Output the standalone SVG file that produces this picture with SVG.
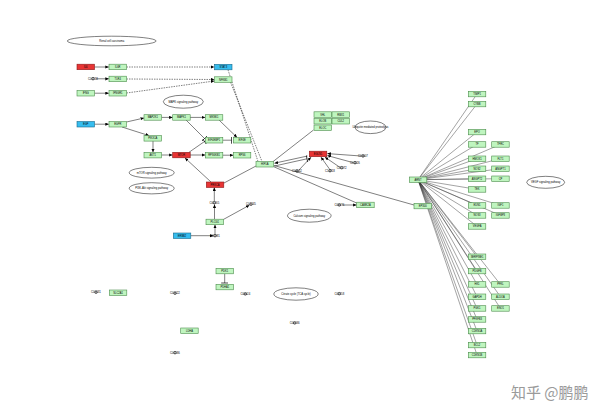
<svg xmlns="http://www.w3.org/2000/svg" width="600" height="419" viewBox="0 0 600 419">
<style>
.bg{fill:#fff}
.g rect{fill:#bff5bf;stroke:#4c8c4c;stroke-width:0.6}
.r rect{fill:#e83434;stroke:#8a1a1a;stroke-width:0.6}
.b rect{fill:#36bdef;stroke:#1a6a8a;stroke-width:0.6}
text{font-family:"Liberation Sans",Arial,sans-serif;font-size:2.6px;fill:#000;text-anchor:middle}
.c circle{fill:none;stroke:#000;stroke-width:0.5}
.c text{font-size:2.8px}
.p ellipse{fill:#fff;stroke:#000;stroke-width:0.5}
.p text{font-size:2.7px}
.e{stroke:#000;stroke-width:0.5;fill:none}
.d{stroke:#000;stroke-width:0.5;fill:none;stroke-dasharray:1.5,1}
.f{stroke:#333;stroke-width:0.45;fill:none}
.a{marker-end:url(#arr)}
.t{marker-end:url(#bar)}
.wm{font-family:"Noto Sans CJK SC",sans-serif;font-size:15px;fill:#9a9a9a;text-anchor:start}
</style>
<defs>
<marker id="arr" markerUnits="userSpaceOnUse" markerWidth="4" markerHeight="4" refX="3.5" refY="1.6" orient="auto"><path d="M0,0L3.5,1.6L0,3.2z" fill="#000"/></marker>
<marker id="bar" markerUnits="userSpaceOnUse" markerWidth="2" markerHeight="7" refX="1" refY="3.5" orient="auto"><path d="M1,0V7" stroke="#000" stroke-width="0.7"/></marker>
</defs>
<rect class="bg" width="600" height="419"/>

<g id="connectors">
<line class="e a" x1="94.5" y1="67" x2="108.8" y2="67"/>
<line class="d a" x1="126.5" y1="67" x2="214.4" y2="67"/>
<line class="e a" x1="96" y1="78.8" x2="108.8" y2="78.8"/>
<line class="d a" x1="126.5" y1="79" x2="214.4" y2="79.5"/>
<line class="e a" x1="94.5" y1="93.2" x2="108.8" y2="93.2"/>
<line class="d a" x1="126.5" y1="93" x2="214.4" y2="81"/>
<line class="d" x1="228" y1="69.8" x2="258" y2="161.5"/>
<line class="d" x1="230.5" y1="82.2" x2="262" y2="161.5"/>
<line class="e a" x1="94.5" y1="124.2" x2="108.8" y2="124.2"/>
<line class="e a" x1="126.5" y1="122" x2="144" y2="118"/>
<line class="e a" x1="161.5" y1="117.4" x2="172.6" y2="117.4"/>
<line class="e a" x1="190" y1="117.4" x2="205.2" y2="117.4"/>
<line class="e a" x1="122" y1="127" x2="149" y2="135.6"/>
<line class="e a" x1="153" y1="141" x2="153" y2="152.3"/>
<line class="e a" x1="161.5" y1="155" x2="172.6" y2="155"/>
<line class="e a" x1="190" y1="155" x2="205.2" y2="155"/>
<line class="e a" x1="222.7" y1="155.2" x2="233.2" y2="155.2"/>
<line class="e t" x1="189" y1="152.3" x2="204.5" y2="141.5"/>
<line class="e t" x1="186" y1="120" x2="204.5" y2="138.5"/>
<line class="e t" x1="222.7" y1="140.2" x2="231.5" y2="140.2"/>
<line class="e a" x1="219" y1="120" x2="237" y2="137.4"/>
<line class="e a" x1="211" y1="182" x2="185" y2="158"/>
<line class="e" x1="224" y1="183" x2="256" y2="166"/>
<line class="e a" x1="214.3" y1="201" x2="214.3" y2="187.5"/>
<line class="e a" x1="214.5" y1="219.2" x2="214.5" y2="204.4"/>
<line class="e a" x1="223.3" y1="219.5" x2="249.4" y2="205.2"/>
<line class="e a" x1="190.7" y1="235.7" x2="213.3" y2="235.7"/>
<line class="e a" x1="215" y1="234" x2="215" y2="224.8"/>
<line class="e" x1="313.5" y1="130" x2="273" y2="161.6"/>
<line class="e a" x1="307.5" y1="156" x2="274.5" y2="163.2"/>
<line class="e t" x1="274.5" y1="166" x2="307" y2="158.8"/>
<line class="e a" x1="361" y1="156" x2="327.4" y2="153.6"/>
<line class="e a" x1="353" y1="162.6" x2="327.4" y2="155.6"/>
<line class="e a" x1="340" y1="167.4" x2="325" y2="157.2"/>
<line class="e a" x1="329.6" y1="169.2" x2="321" y2="157.2"/>
<line class="e a" x1="299" y1="170" x2="311" y2="157.2"/>
<line class="e" x1="273.5" y1="166.6" x2="356.7" y2="203"/>
<line class="e" x1="274" y1="165.5" x2="414" y2="205"/>
<line class="e a" x1="342" y1="205" x2="356.6" y2="205"/>
<line class="e t" x1="224.7" y1="273.7" x2="224.7" y2="283"/>
<g id="fan">
<line class="f" x1="418" y1="179.7" x2="477" y2="94"/>
<line class="f" x1="418" y1="179.7" x2="477" y2="104"/>
<line class="f" x1="418" y1="179.7" x2="477" y2="132"/>
<line class="f" x1="418" y1="179.7" x2="477" y2="144.4"/>
<line class="f" x1="418" y1="179.7" x2="477" y2="158.7"/>
<line class="f" x1="418" y1="179.7" x2="477" y2="168.7"/>
<line class="f" x1="418" y1="179.7" x2="477" y2="178.7"/>
<line class="f" x1="418" y1="179.7" x2="477" y2="189.4"/>
<line class="f" x1="418" y1="179.7" x2="477" y2="205.4"/>
<line class="f" x1="418" y1="179.7" x2="477" y2="215.4"/>
<line class="f" x1="418" y1="179.7" x2="477" y2="226.4"/>
<line class="f" x1="418" y1="179.7" x2="477" y2="256.7"/>
<line class="f" x1="418" y1="179.7" x2="477" y2="271"/>
<line class="f" x1="418" y1="179.7" x2="477" y2="284.4"/>
<line class="f" x1="418" y1="179.7" x2="477" y2="296.7"/>
<line class="f" x1="418" y1="179.7" x2="477" y2="308.4"/>
<line class="f" x1="418" y1="179.7" x2="477" y2="319.4"/>
<line class="f" x1="418" y1="179.7" x2="477" y2="331"/>
<line class="f" x1="418" y1="179.7" x2="477" y2="345"/>
<line class="f" x1="418" y1="179.7" x2="477" y2="355"/>
<line class="f" x1="418" y1="179.7" x2="500.4" y2="144.4"/>
<line class="f" x1="418" y1="179.7" x2="500.4" y2="158.7"/>
<line class="f" x1="418" y1="179.7" x2="500.4" y2="168.7"/>
<line class="f" x1="418" y1="179.7" x2="500.4" y2="178.7"/>
<line class="f" x1="418" y1="179.7" x2="500.4" y2="205.4"/>
<line class="f" x1="418" y1="179.7" x2="500.4" y2="215.4"/>
<line class="f" x1="418" y1="179.7" x2="500.4" y2="284.4"/>
<line class="f" x1="418" y1="179.7" x2="500.4" y2="296.7"/>
<line class="f" x1="418" y1="179.7" x2="500.4" y2="308.4"/>
</g>
</g>

<g id="pathways" class="p">
<g id="p-renal"><ellipse cx="111.7" cy="41" rx="44.5" ry="4.8"/><text x="111.7" y="42">Renal cell carcinoma</text></g>
<g id="p-mapk"><ellipse cx="183.3" cy="101.7" rx="20" ry="6.5"/><text x="183.3" y="102.7">MAPK signaling pathway</text></g>
<g id="p-mtor"><ellipse cx="151.7" cy="172.7" rx="22.5" ry="5.4"/><text x="151.7" y="173.7">mTOR signaling pathway</text></g>
<g id="p-pi3k"><ellipse cx="151.7" cy="188.3" rx="22.5" ry="5.6"/><text x="151.7" y="189.3">PI3K-Akt signaling pathway</text></g>
<g id="p-ubiq"><ellipse cx="370.5" cy="127.3" rx="15.5" ry="6.3"/><text x="370.5" y="128.3">Ubiquitin mediated proteolysis</text></g>
<g id="p-calcium"><ellipse cx="309.3" cy="215.7" rx="21.8" ry="6.5"/><text x="309.3" y="216.7">Calcium signaling pathway</text></g>
<g id="p-tca"><ellipse cx="296" cy="294" rx="22.2" ry="6.2"/><text x="296" y="295">Citrate cycle (TCA cycle)</text></g>
<g id="p-vegf"><ellipse cx="545.7" cy="182.3" rx="19" ry="6"/><text x="545.7" y="183.3">VEGF signaling pathway</text></g>
</g>

<g id="compounds" class="c">
<g id="C00533"><text x="93" y="79.7">C00533</text><circle cx="93" cy="78.7" r="1.3"/></g>
<g id="C00165"><text x="214.3" y="203.7">C00165</text><circle cx="214.3" cy="202.7" r="1.3"/></g>
<g id="C01245"><text x="251" y="205.3">C01245</text><circle cx="251" cy="204.3" r="1.3"/></g>
<g id="C05981"><text x="215" y="236.7">C05981</text><circle cx="215" cy="235.7" r="1.3"/></g>
<g id="C00007"><text x="363" y="157">C00007</text><circle cx="363" cy="156" r="1.3"/></g>
<g id="C00026"><text x="355" y="163.7">C00026</text><circle cx="355" cy="162.7" r="1.3"/></g>
<g id="C00072"><text x="341.7" y="168.7">C00072</text><circle cx="341.7" cy="167.7" r="1.3"/></g>
<g id="C14818"><text x="330" y="171.7">C14818</text><circle cx="330" cy="170.7" r="1.3"/></g>
<g id="C00042"><text x="297" y="172">C00042</text><circle cx="297" cy="171" r="1.3"/></g>
<g id="C00076"><text x="339.3" y="206">C00076</text><circle cx="339.3" cy="205" r="1.3"/></g>
<g id="C00031"><text x="96" y="293.3">C00031</text><circle cx="96" cy="292.3" r="1.3"/></g>
<g id="C00022"><text x="175" y="294.3">C00022</text><circle cx="175" cy="293.3" r="1.3"/></g>
<g id="C00024"><text x="245.3" y="295">C00024</text><circle cx="245.3" cy="294" r="1.3"/></g>
<g id="C00186"><text x="175" y="353.7">C00186</text><circle cx="175" cy="352.7" r="1.3"/></g>
<g id="C00158"><text x="339.3" y="294.7">C00158</text><circle cx="339.3" cy="293.7" r="1.3"/></g>
<g id="C00036"><text x="294.7" y="324">C00036</text><circle cx="294.7" cy="323" r="1.3"/></g>
</g>

<g id="genes">
<g id="IL6" class="r"><rect x="77" y="64.2" width="17.5" height="5.5"/><text x="85.75" y="67.9">IL6</text></g>
<g id="IL6R" class="g"><rect x="109" y="64.2" width="17.5" height="5.5"/><text x="117.75" y="67.9">IL6R</text></g>
<g id="STAT3" class="b"><rect x="214.5" y="64.3" width="17.5" height="5.5"/><text x="223.25" y="68">STAT3</text></g>
<g id="TLR4" class="g"><rect x="109" y="76.2" width="17.5" height="5.5"/><text x="117.75" y="79.9">TLR4</text></g>
<g id="NFKB1" class="g"><rect x="214.5" y="76.8" width="17.5" height="5.5"/><text x="223.25" y="80.5">NFKB1</text></g>
<g id="IFNG" class="g"><rect x="77" y="90.5" width="17.5" height="5.5"/><text x="85.75" y="94.2">IFNG</text></g>
<g id="IFNGR1" class="g"><rect x="109" y="90.5" width="17.5" height="5.5"/><text x="117.75" y="94.2">IFNGR1</text></g>
<g id="EGF" class="b"><rect x="77" y="121.5" width="17.5" height="5.5"/><text x="85.75" y="125.2">EGF</text></g>
<g id="EGFR" class="g"><rect x="109" y="121.5" width="17.5" height="5.5"/><text x="117.75" y="125.2">EGFR</text></g>
<g id="MAP2K1" class="g"><rect x="144" y="114.7" width="17.5" height="5.5"/><text x="152.75" y="118.4">MAP2K1</text></g>
<g id="MAPK1" class="g"><rect x="172.7" y="114.7" width="17.5" height="5.5"/><text x="181.45" y="118.4">MAPK1</text></g>
<g id="MKNK1" class="g"><rect x="205.3" y="114.7" width="17.5" height="5.5"/><text x="214.05" y="118.4">MKNK1</text></g>
<g id="PIK3CA" class="g"><rect x="144" y="135.6" width="17.5" height="5.5"/><text x="152.75" y="139.3">PIK3CA</text></g>
<g id="AKT1" class="g"><rect x="144" y="152.4" width="17.5" height="5.5"/><text x="152.75" y="156.1">AKT1</text></g>
<g id="MTOR" class="r"><rect x="172.7" y="152.3" width="17.5" height="5.5"/><text x="181.45" y="156">MTOR</text></g>
<g id="EIF4EBP1" class="g"><rect x="205.3" y="137.5" width="17.5" height="5.5"/><text x="214.05" y="141.2">EIF4EBP1</text></g>
<g id="EIF4E" class="g"><rect x="233.3" y="137.5" width="17.5" height="5.5"/><text x="242.05" y="141.2">EIF4E</text></g>
<g id="RPS6KB1" class="g"><rect x="205.3" y="152.5" width="17.5" height="5.5"/><text x="214.05" y="156.2">RPS6KB1</text></g>
<g id="RPS6" class="g"><rect x="233.3" y="152.5" width="17.5" height="5.5"/><text x="242.05" y="156.2">RPS6</text></g>
<g id="PRKCA" class="r"><rect x="206.3" y="182" width="17.5" height="5.5"/><text x="215.05" y="185.7">PRKCA</text></g>
<g id="PLCG1" class="g"><rect x="206" y="219.2" width="17.5" height="5.5"/><text x="214.75" y="222.9">PLCG1</text></g>
<g id="ERBB2" class="b"><rect x="173.3" y="233" width="17.5" height="5.5"/><text x="182.05" y="236.7">ERBB2</text></g>
<g id="HIF1A" class="g"><rect x="256" y="161.5" width="17.5" height="5.5"/><text x="264.75" y="165.2">HIF1A</text></g>
<g id="VHL" class="g"><rect x="314" y="111.8" width="17.5" height="5.5"/><text x="322.75" y="115.5">VHL</text></g>
<g id="RBX1" class="g"><rect x="332" y="111.8" width="17.5" height="5.5"/><text x="340.75" y="115.5">RBX1</text></g>
<g id="ELOB" class="g"><rect x="314" y="118.5" width="17.5" height="5.5"/><text x="322.75" y="122.2">ELOB</text></g>
<g id="CUL2" class="g"><rect x="332" y="118.5" width="17.5" height="5.5"/><text x="340.75" y="122.2">CUL2</text></g>
<g id="ELOC" class="g"><rect x="314" y="125" width="17.5" height="5.5"/><text x="322.75" y="128.7">ELOC</text></g>
<g id="EGLN1" class="r"><rect x="309.3" y="151.2" width="17.5" height="5.5"/><text x="318.05" y="154.9">EGLN1</text></g>
<g id="CAMK2A" class="g"><rect x="356.7" y="202.2" width="17.5" height="5.5"/><text x="365.45" y="205.9">CAMK2A</text></g>
<g id="ARNT" class="g"><rect x="409.3" y="177" width="17.5" height="5.5"/><text x="418.05" y="180.7">ARNT</text></g>
<g id="EP300" class="g"><rect x="414" y="203.3" width="17.5" height="5.5"/><text x="422.75" y="207">EP300</text></g>
<g id="TIMP1" class="g"><rect x="468.3" y="91.3" width="17.5" height="5.5"/><text x="477.05" y="95">TIMP1</text></g>
<g id="CYBB" class="g"><rect x="468.3" y="101.3" width="17.5" height="5.5"/><text x="477.05" y="105">CYBB</text></g>
<g id="EPO" class="g"><rect x="468.3" y="129.3" width="17.5" height="5.5"/><text x="477.05" y="133">EPO</text></g>
<g id="TF" class="g"><rect x="468.3" y="141.7" width="17.5" height="5.5"/><text x="477.05" y="145.4">TF</text></g>
<g id="HMOX1" class="g"><rect x="468.3" y="156" width="17.5" height="5.5"/><text x="477.05" y="159.7">HMOX1</text></g>
<g id="NOS2" class="g"><rect x="468.3" y="166" width="17.5" height="5.5"/><text x="477.05" y="169.7">NOS2</text></g>
<g id="ANGPT2" class="g"><rect x="468.3" y="176" width="17.5" height="5.5"/><text x="477.05" y="179.7">ANGPT2</text></g>
<g id="TEK" class="g"><rect x="468.3" y="186.7" width="17.5" height="5.5"/><text x="477.05" y="190.4">TEK</text></g>
<g id="EDN1" class="g"><rect x="468.3" y="202.7" width="17.5" height="5.5"/><text x="477.05" y="206.4">EDN1</text></g>
<g id="NOS3" class="g"><rect x="468.3" y="212.7" width="17.5" height="5.5"/><text x="477.05" y="216.4">NOS3</text></g>
<g id="VEGFA" class="g"><rect x="468.3" y="223.7" width="17.5" height="5.5"/><text x="477.05" y="227.4">VEGFA</text></g>
<g id="SERPINE1" class="g"><rect x="468.3" y="254" width="17.5" height="5.5"/><text x="477.05" y="257.7">SERPINE1</text></g>
<g id="PDGFB" class="g"><rect x="468.3" y="268.3" width="17.5" height="5.5"/><text x="477.05" y="272">PDGFB</text></g>
<g id="HK1" class="g"><rect x="468.3" y="281.7" width="17.5" height="5.5"/><text x="477.05" y="285.4">HK1</text></g>
<g id="GAPDH" class="g"><rect x="468.3" y="294" width="17.5" height="5.5"/><text x="477.05" y="297.7">GAPDH</text></g>
<g id="PGK1" class="g"><rect x="468.3" y="305.7" width="17.5" height="5.5"/><text x="477.05" y="309.4">PGK1</text></g>
<g id="PFKFB3" class="g"><rect x="468.3" y="316.7" width="17.5" height="5.5"/><text x="477.05" y="320.4">PFKFB3</text></g>
<g id="CDKN1A" class="g"><rect x="468.3" y="328.3" width="17.5" height="5.5"/><text x="477.05" y="332">CDKN1A</text></g>
<g id="BCL2" class="g"><rect x="468.3" y="342.3" width="17.5" height="5.5"/><text x="477.05" y="346">BCL2</text></g>
<g id="CDKN1B" class="g"><rect x="468.3" y="352.3" width="17.5" height="5.5"/><text x="477.05" y="356">CDKN1B</text></g>
<g id="TFRC" class="g"><rect x="491.7" y="141.7" width="17.5" height="5.5"/><text x="500.45" y="145.4">TFRC</text></g>
<g id="FLT1" class="g"><rect x="491.7" y="156" width="17.5" height="5.5"/><text x="500.45" y="159.7">FLT1</text></g>
<g id="ANGPT1" class="g"><rect x="491.7" y="166" width="17.5" height="5.5"/><text x="500.45" y="169.7">ANGPT1</text></g>
<g id="CP" class="g"><rect x="491.7" y="176" width="17.5" height="5.5"/><text x="500.45" y="179.7">CP</text></g>
<g id="IGF1" class="g"><rect x="491.7" y="202.7" width="17.5" height="5.5"/><text x="500.45" y="206.4">IGF1</text></g>
<g id="IGFBP3" class="g"><rect x="491.7" y="212.7" width="17.5" height="5.5"/><text x="500.45" y="216.4">IGFBP3</text></g>
<g id="PFKL" class="g"><rect x="491.7" y="281.7" width="17.5" height="5.5"/><text x="500.45" y="285.4">PFKL</text></g>
<g id="ALDOA" class="g"><rect x="491.7" y="294" width="17.5" height="5.5"/><text x="500.45" y="297.7">ALDOA</text></g>
<g id="ENO1" class="g"><rect x="491.7" y="305.7" width="17.5" height="5.5"/><text x="500.45" y="309.4">ENO1</text></g>
<g id="PDK1" class="g"><rect x="216" y="268.3" width="17.5" height="5.5"/><text x="224.75" y="272">PDK1</text></g>
<g id="PDHA1" class="g"><rect x="216" y="284.3" width="17.5" height="5.5"/><text x="224.75" y="288">PDHA1</text></g>
<g id="SLC2A1" class="g"><rect x="109.3" y="290" width="17.5" height="5.5"/><text x="118.05" y="293.7">SLC2A1</text></g>
<g id="LDHA" class="g"><rect x="180.7" y="328" width="17.5" height="5.5"/><text x="189.45" y="331.7">LDHA</text></g>
</g>

<text class="wm" x="511" y="398">知乎 @鹏鹏</text>
</svg>
